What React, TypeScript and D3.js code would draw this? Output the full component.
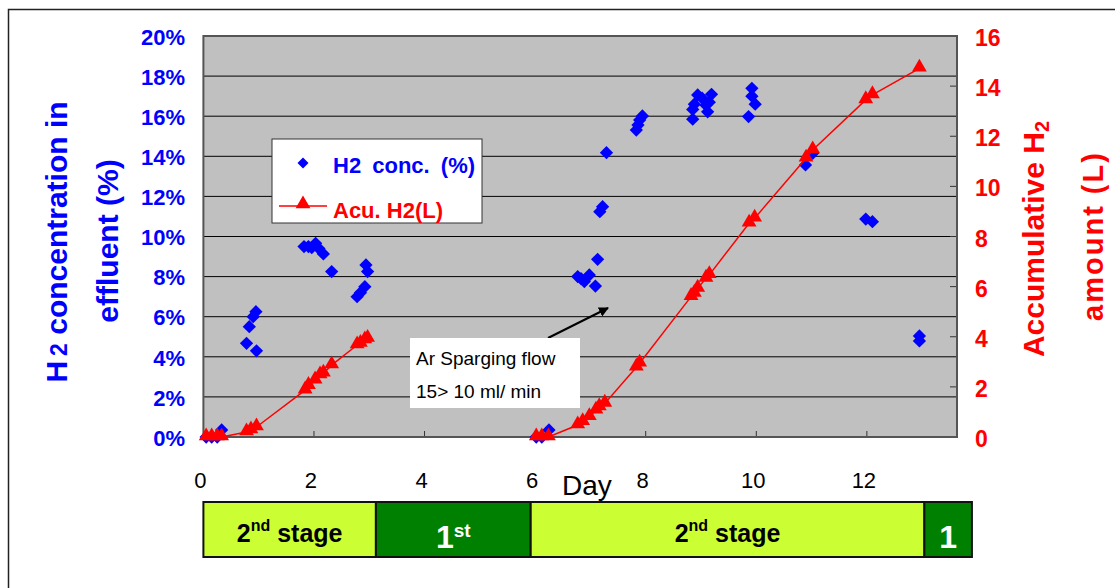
import React, { useEffect, useRef } from "react";
import * as d3 from "d3";

// day ticks and the two y axes
const dayTicks = [0, 2, 4, 6, 8, 10, 12];
const concTicks = [0, 2, 4, 6, 8, 10, 12, 14, 16, 18, 20];
const acuTicks = [0, 2, 4, 6, 8, 10, 12, 14, 16];

// H2 concentration (%) vs day
const concRun1: [number, number][] = [
  [0.05, 0], [0.15, 0], [0.25, 0], [0.33, 0.35],
  [0.78, 4.67], [0.83, 5.5], [0.9, 6.0], [0.95, 6.25], [0.96, 4.3],
  [1.82, 9.5], [1.9, 9.5], [1.96, 9.45], [2.03, 9.66], [2.09, 9.4], [2.17, 9.13],
  [2.32, 8.25], [2.78, 7.0], [2.84, 7.2], [2.92, 7.5], [2.94, 8.58], [2.97, 8.25],
];
const concRun2: [number, number][] = [
  [6.02, 0], [6.12, 0], [6.25, 0.35],
  [6.77, 8.0], [6.83, 7.9], [6.89, 7.75], [6.98, 8.08], [7.09, 7.53], [7.13, 8.86],
  [7.17, 11.24], [7.22, 11.49], [7.29, 14.18],
  [7.83, 15.31], [7.86, 15.56], [7.89, 15.81], [7.94, 16.01],
  [8.85, 15.85], [8.85, 16.34], [8.88, 16.6], [8.94, 17.06], [9.02, 16.9],
  [9.09, 16.55], [9.12, 16.22], [9.15, 16.7], [9.19, 17.09],
  [9.86, 15.98], [9.92, 17.0], [9.92, 17.39], [9.98, 16.6],
  [10.89, 13.57], [11.02, 14.15], [11.98, 10.87], [12.1, 10.74],
  [12.95, 5.04], [12.95, 4.79],
];

// accumulated H2 (L) vs day
const acuRun1: [number, number][] = [
  [0.05, 0], [0.15, 0], [0.25, 0], [0.33, 0],
  [0.78, 0.2], [0.86, 0.28], [0.96, 0.4],
  [1.84, 1.87], [1.9, 2.05], [2.02, 2.27], [2.11, 2.47], [2.17, 2.54], [2.32, 2.87],
  [2.78, 3.67], [2.84, 3.73], [2.92, 3.87], [2.97, 3.93],
];
const acuRun2: [number, number][] = [
  [6.02, 0], [6.12, 0], [6.24, 0],
  [6.77, 0.48], [6.86, 0.61], [6.98, 0.81], [7.1, 1.07], [7.16, 1.2], [7.26, 1.34],
  [7.83, 2.78], [7.89, 2.94],
  [8.82, 5.6], [8.88, 5.73], [8.94, 5.93], [9.09, 6.33], [9.15, 6.47],
  [9.87, 8.53], [9.97, 8.73], [10.9, 11.12], [11.02, 11.45],
  [11.98, 13.45], [12.1, 13.65], [12.95, 14.71],
];

// operating stages below the axis (edges in days)
const stageEdges = [0, 3.12, 5.92, 13.04, 13.9];
const stageMain = ["2", "1", "2", "1"];
const stageSup = ["nd", "st", "nd", ""];
const stageRest = [" stage", "", " stage", ""];
const stageDark = [false, true, false, true];

const W = 1115;
const H = 588;
const FONT = "'Liberation Sans', Arial, sans-serif";

export default function App() {
  const ref = useRef<SVGSVGElement | null>(null);

  useEffect(() => {
    const svg = d3.select(ref.current);
    svg.selectAll("*").remove();

    const left = 203.4, right = 957, top = 36, bottom = 437;

    const x = d3.scaleLinear().domain([0, 13.63]).range([left, right]);
    const yC = d3.scaleLinear().domain([0, 20]).range([bottom, top]);
    const yA = d3.scaleLinear().domain([0, 16]).range([bottom, top]);

    // outer frame
    svg.append("rect")
      .attr("x", 8.5).attr("y", 9.5)
      .attr("width", W + 20).attr("height", H + 20)
      .attr("fill", "white").attr("stroke", "#222").attr("stroke-width", 1.5);

    // plot background
    svg.append("rect")
      .attr("x", left).attr("y", top)
      .attr("width", right - left).attr("height", bottom - top)
      .attr("fill", "#c0c0c0");

    // gridlines
    svg.append("g")
      .selectAll("line")
      .data(concTicks.slice(1, -1))
      .enter().append("line")
      .attr("x1", left).attr("x2", right)
      .attr("y1", d => yC(d)).attr("y2", d => yC(d))
      .attr("stroke", "black").attr("stroke-width", 1);

    // bottom ticks (inside)
    svg.append("g")
      .selectAll("line")
      .data(dayTicks.slice(1))
      .enter().append("line")
      .attr("x1", d => x(d)).attr("x2", d => x(d))
      .attr("y1", bottom).attr("y2", bottom - 6)
      .attr("stroke", "#333").attr("stroke-width", 1);

    // right ticks (inside)
    svg.append("g")
      .selectAll("line")
      .data(acuTicks.slice(1, -1))
      .enter().append("line")
      .attr("x1", right - 7).attr("x2", right)
      .attr("y1", d => yA(d)).attr("y2", d => yA(d))
      .attr("stroke", "#333").attr("stroke-width", 1);

    svg.append("rect")
      .attr("x", left).attr("y", top)
      .attr("width", right - left).attr("height", bottom - top)
      .attr("fill", "none").attr("stroke", "#555").attr("stroke-width", 2);

    // tick labels
    svg.append("g")
      .selectAll("text")
      .data(concTicks)
      .enter().append("text")
      .attr("x", 185).attr("y", d => yC(d) + 1)
      .attr("dy", "0.35em")
      .attr("text-anchor", "end")
      .attr("fill", "#0000ff")
      .style("font", `bold 22px ${FONT}`)
      .text(d => `${d}%`);

    svg.append("g")
      .selectAll("text")
      .data(acuTicks)
      .enter().append("text")
      .attr("x", 975).attr("y", d => yA(d) + 2)
      .attr("dy", "0.35em")
      .attr("fill", "#ff0000")
      .style("font", `bold 23px ${FONT}`)
      .text(d => d);

    svg.append("g")
      .selectAll("text")
      .data(dayTicks)
      .enter().append("text")
      .attr("x", d => x(d) - 3).attr("y", 488)
      .attr("text-anchor", "middle")
      .attr("fill", "black")
      .style("font", `22px ${FONT}`)
      .text(d => d);

    svg.append("text")
      .attr("x", 562).attr("y", 495)
      .attr("fill", "black")
      .style("font", `28px ${FONT}`)
      .text("Day");

    // left axis title
    const lt = svg.append("text")
      .attr("transform", "translate(67,242) rotate(-90)")
      .attr("text-anchor", "middle")
      .attr("fill", "#0000ff")
      .style("font", `bold 30px ${FONT}`);
    lt.append("tspan").text("H");
    lt.append("tspan").attr("dx", 5).style("font-size", "23px").text("2");
    lt.append("tspan").text(" concentration in");

    svg.append("text")
      .attr("transform", "translate(118,241) rotate(-90)")
      .attr("text-anchor", "middle")
      .attr("fill", "#0000ff")
      .style("font", `bold 30px ${FONT}`)
      .text("effluent (%)");

    // right axis title
    const rt = svg.append("text")
      .attr("transform", "translate(1044,239) rotate(-90)")
      .attr("text-anchor", "middle")
      .attr("fill", "#ff0000")
      .style("font", `bold 30px ${FONT}`);
    rt.append("tspan").text("Accumulative H");
    rt.append("tspan").attr("dy", 5).style("font-size", "20px").text("2");

    svg.append("text")
      .attr("transform", "translate(1103,236) rotate(-90)")
      .attr("text-anchor", "middle")
      .attr("fill", "#ff0000")
      .attr("letter-spacing", 2)
      .style("font", `bold 29px ${FONT}`)
      .text("amount (L)");

    // diamonds
    const diamond = d3.symbol().type(d3.symbolSquare).size(88);
    svg.append("g")
      .selectAll("path")
      .data([...concRun1, ...concRun2])
      .enter().append("path")
      .attr("d", diamond)
      .attr("transform", d => `translate(${x(d[0])},${yC(d[1])}) rotate(45)`)
      .attr("fill", "#0000ff");

    // accumulated H2 line + triangles
    const line = d3.line<[number, number]>()
      .x(d => x(d[0]))
      .y(d => yA(d[1]));
    const tri = d3.symbol().type(d3.symbolTriangle).size(95);

    [acuRun1, acuRun2].forEach(run => {
      svg.append("path")
        .datum(run)
        .attr("d", line)
        .attr("fill", "none")
        .attr("stroke", "#ff0000")
        .attr("stroke-width", 1.5);
      svg.append("g")
        .selectAll("path")
        .data(run)
        .enter().append("path")
        .attr("d", tri)
        .attr("transform", d => `translate(${x(d[0])},${yA(d[1]) - 1})`)
        .attr("fill", "#ff0000");
    });

    // legend
    svg.append("rect")
      .attr("x", 272).attr("y", 139)
      .attr("width", 210).attr("height", 84)
      .attr("fill", "white").attr("stroke", "#333").attr("stroke-width", 1);
    svg.append("path")
      .attr("d", d3.symbol().type(d3.symbolSquare).size(60))
      .attr("transform", "translate(303,163) rotate(45)")
      .attr("fill", "#0000ff");
    svg.append("text")
      .attr("x", 333).attr("y", 173)
      .attr("fill", "#0000ff")
      .attr("word-spacing", 5)
      .style("font", `bold 22px ${FONT}`)
      .text("H2 conc. (%)");
    svg.append("line")
      .attr("x1", 279).attr("x2", 327).attr("y1", 206).attr("y2", 206)
      .attr("stroke", "#ff0000").attr("stroke-width", 1.5);
    svg.append("path")
      .attr("d", tri)
      .attr("transform", "translate(303,204)")
      .attr("fill", "#ff0000");
    svg.append("text")
      .attr("x", 333).attr("y", 218)
      .attr("fill", "#ff0000")
      .style("font", `bold 22px ${FONT}`)
      .text("Acu. H2(L)");

    // annotation
    svg.append("defs").append("marker")
      .attr("id", "arrow")
      .attr("viewBox", "0 0 10 10")
      .attr("refX", 9).attr("refY", 5)
      .attr("markerWidth", 5).attr("markerHeight", 5)
      .attr("orient", "auto")
      .append("path")
      .attr("d", "M0,0 L10,5 L0,10 z")
      .attr("fill", "black");
    svg.append("line")
      .attr("x1", 548).attr("y1", 338).attr("x2", 608).attr("y2", 308)
      .attr("stroke", "black").attr("stroke-width", 2)
      .attr("marker-end", "url(#arrow)");
    svg.append("rect")
      .attr("x", 410).attr("y", 338)
      .attr("width", 170).attr("height", 70)
      .attr("fill", "white");
    svg.append("text")
      .attr("x", 416).attr("y", 365)
      .attr("fill", "black")
      .style("font", `19px ${FONT}`)
      .text("Ar Sparging flow");
    svg.append("text")
      .attr("x", 416).attr("y", 398)
      .attr("fill", "black")
      .style("font", `19px ${FONT}`)
      .text("15> 10 ml/ min");

    // stage bar
    const stages = stageMain.map((m, i) => ({
      x0: stageEdges[i], x1: stageEdges[i + 1],
      main: m, sup: stageSup[i], rest: stageRest[i], dark: stageDark[i],
    }));
    const sg = svg.append("g")
      .selectAll("g")
      .data(stages)
      .enter().append("g");
    sg.append("rect")
      .attr("x", d => x(d.x0)).attr("y", 502)
      .attr("width", d => x(d.x1) - x(d.x0)).attr("height", 55)
      .attr("fill", d => (d.dark ? "#008000" : "#ccff33"))
      .attr("stroke", "#111").attr("stroke-width", 2);
    const st = sg.append("text")
      .attr("x", d => (x(d.x0) + x(d.x1)) / 2)
      .attr("y", d => (d.dark ? 548 : 542))
      .attr("text-anchor", "middle")
      .attr("fill", d => (d.dark ? "white" : "black"))
      .style("font", d => `bold ${d.dark ? 32 : 25}px ${FONT}`);
    st.append("tspan").text(d => d.main);
    st.append("tspan")
      .attr("dy", d => (d.sup ? -11 : 0))
      .style("font-size", d => (d.dark ? "19px" : "16px"))
      .text(d => d.sup);
    st.append("tspan")
      .attr("dy", d => (d.sup ? 11 : 0))
      .text(d => d.rest);
  }, []);

  return (
    <svg
      ref={ref}
      width={W}
      height={H}
      style={{ position: "absolute", left: 0, top: 0, background: "white" }}
    />
  );
}
